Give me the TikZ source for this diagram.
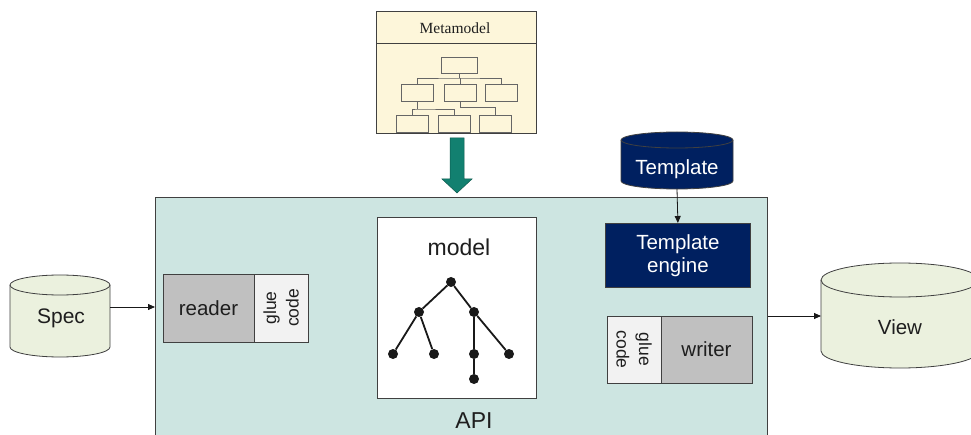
\documentclass[tikz,border=0pt]{standalone}
\usepackage{fontspec}
\setmainfont{Liberation Sans}
\newfontfamily\serifface{Liberation Serif}
\usetikzlibrary{arrows.meta}
\definecolor{apifill}{RGB}{205,229,225}
\definecolor{metafill}{RGB}{253,246,218}
\definecolor{arrowgreen}{RGB}{18,128,112}
\definecolor{navy}{RGB}{0,32,96}
\definecolor{cylfill}{RGB}{235,241,222}
\definecolor{readergray}{RGB}{192,192,192}
\definecolor{gluegray}{RGB}{242,242,242}
\definecolor{edge}{RGB}{64,64,64}
\definecolor{txt}{RGB}{30,30,30}
\newcommand\mycyl[6]{%
  \filldraw[cylline, fill=#6] (#1-#2,-#3) -- (#1-#2,-#4) arc[start angle=180,end angle=360,x radius=#2,y radius=#5] -- (#1+#2,-#3) arc[start angle=0,end angle=180,x radius=#2,y radius=#5] -- cycle;
  \draw[cylline] (#1-#2,-#3) arc[start angle=180,end angle=360,x radius=#2,y radius=#5];}
\begin{document}
\begin{tikzpicture}[x=1pt,y=1pt,
  cylline/.style={draw=edge, line width=0.8pt},
  apibox/.style={draw=edge, line width=0.9pt, fill=apifill, inner sep=0pt},
  metabox/.style={draw=edge, line width=0.9pt, fill=metafill, inner sep=0pt},
  mbox/.style={draw=edge!80, line width=0.9pt, fill=metafill, minimum width=32, minimum height=17, inner sep=0pt},
  mline/.style={draw=gray!80!black, line width=0.9pt},
  plain/.style={draw=edge, line width=0.8pt, inner sep=0pt, text=txt, font=\fontsize{20.5}{24}\selectfont},
  lbl/.style={text=txt, inner sep=0pt, align=center},
  dot/.style={circle, fill=black!90, minimum size=10, inner sep=0pt},
  tline/.style={line width=1.8pt, black!90},
  arr/.style={-{Triangle[length=7pt,width=6pt]}, line width=0.8pt, black!90}]
\useasboundingbox (0,0) rectangle (971,-435);
\clip (0,0) rectangle (971,-435);
\fill[white] (0,0) rectangle (971,-435);

% API box
\node[apibox, anchor=north west, minimum width=612, minimum height=250] (api) at (155,-197) {};
\node[lbl, font=\fontsize{23}{27}\selectfont] (apilbl) at (474,-420.5) {API};

% Metamodel
\node[metabox, anchor=north west, minimum width=160, minimum height=122] (meta) at (376,-11) {};
\draw[edge, line width=0.9pt] (meta.west |- 0,-43) -- (meta.east |- 0,-43);
\node[lbl, font=\serifface\fontsize{15.5}{18}\selectfont] (metalbl) at (455,-28) {Metamodel};
\node[mbox, minimum width=36, minimum height=16] (mb1) at (459,-65) {};
\node[mbox] (mb2) at (417,-92.5) {};
\node[mbox] (mb3) at (460,-92.5) {};
\node[mbox] (mb4) at (501,-92.5) {};
\node[mbox] (mb5) at (412,-124) {};
\node[mbox] (mb6) at (454,-124) {};
\node[mbox] (mb7) at (495,-124) {};
\coordinate (j1) at (459,-78);
\coordinate (j2) at (417,-109);
\coordinate (j3) at (460,-107);
\draw[mline] (mb1.south) -- (j1);
\draw[mline] (mb2.north) |- (j1) -| (mb4.north);
\draw[mline] (mb3.north) -- (mb3.north |- j1);
\draw[mline] (mb2.south) -- (j2);
\draw[mline] (mb5.north) |- (j2) -| (mb6.north);
\draw[mline] (mb3.south) -- (j3) -| (mb7.north);

% green block arrow
\filldraw[fill=arrowgreen, draw=arrowgreen!70!black, line width=0.5pt]
  (450,-138) -- (464,-138) -- (464,-179) -- (472,-179) -- (457,-193) -- (442,-179) -- (450,-179) -- cycle;

% model box
\node[draw=edge, line width=0.9pt, fill=white, anchor=north west, minimum width=159, minimum height=181, inner sep=0pt] (modelbox) at (377,-217) {};
\node[lbl, font=\fontsize{23}{27}\selectfont] (modellbl) at (459,-247) {model};
\node[dot] (r) at (451,-282) {};
\node[dot] (a) at (419,-312) {};
\node[dot] (b) at (474,-312) {};
\node[dot] (c) at (393,-354) {};
\node[dot] (d) at (434,-354) {};
\node[dot] (e) at (474,-354) {};
\node[dot] (f) at (509,-354) {};
\node[dot] (g) at (474,-379) {};
\draw[tline] (r) -- (a) (r) -- (b) (a) -- (c) (a) -- (d) (b) -- (e) (b) -- (f) (e) -- (g);

% Template cylinder and engine
\mycyl{677}{56}{140}{181}{8}{navy}
\node[lbl, text=white, font=\fontsize{20.5}{23}\selectfont] (tmpl) at (677,-169.5) {Template};
\coordinate (tmplB) at (677,-189);
\node[draw=edge, line width=0.8pt, fill=navy, text=white, anchor=north west, minimum width=145, minimum height=64, inner sep=0pt, align=center, font=\fontsize{20.5}{23}\selectfont] (engine) at (605,-223) {Template\\engine};
\draw[arr] (tmplB) -- (engine.north);

% Spec cylinder
\mycyl{60}{50}{285}{347}{10}{cylfill}
\node[lbl, font=\fontsize{21}{25}\selectfont] (spec) at (61,-318.5) {Spec};
\coordinate (specR) at (110,-307);
\draw[arr] (specR) -- (specR -| api.west);

% reader + glue
\node[plain, fill=readergray, minimum width=91, minimum height=68] (reader) at (208.5,-308) {reader};
\node[plain, fill=gluegray, minimum width=54, minimum height=68] (glueR) at (281,-308) {};
\node[lbl, rotate=90, font=\fontsize{17.5}{22.5}\selectfont] (glueRt) at (glueR) {glue\\code};

% writer + glue
\node[plain, fill=gluegray, minimum width=54, minimum height=67] (glueW) at (634,-349.5) {};
\node[lbl, rotate=-90, font=\fontsize{17.5}{22.5}\selectfont] (glueWt) at (glueW) {glue\\code};
\node[plain, fill=readergray, minimum width=91, minimum height=67] (writer) at (706.5,-349.5) {writer};

% View cylinder
\mycyl{900}{79}{280}{351}{17}{cylfill}
\node[lbl, font=\fontsize{20.5}{25}\selectfont] (view) at (900,-327) {View};
\coordinate (viewL) at (821,-316);
\draw[arr] (viewL -| api.east) -- (viewL);
\end{tikzpicture}
\end{document}
